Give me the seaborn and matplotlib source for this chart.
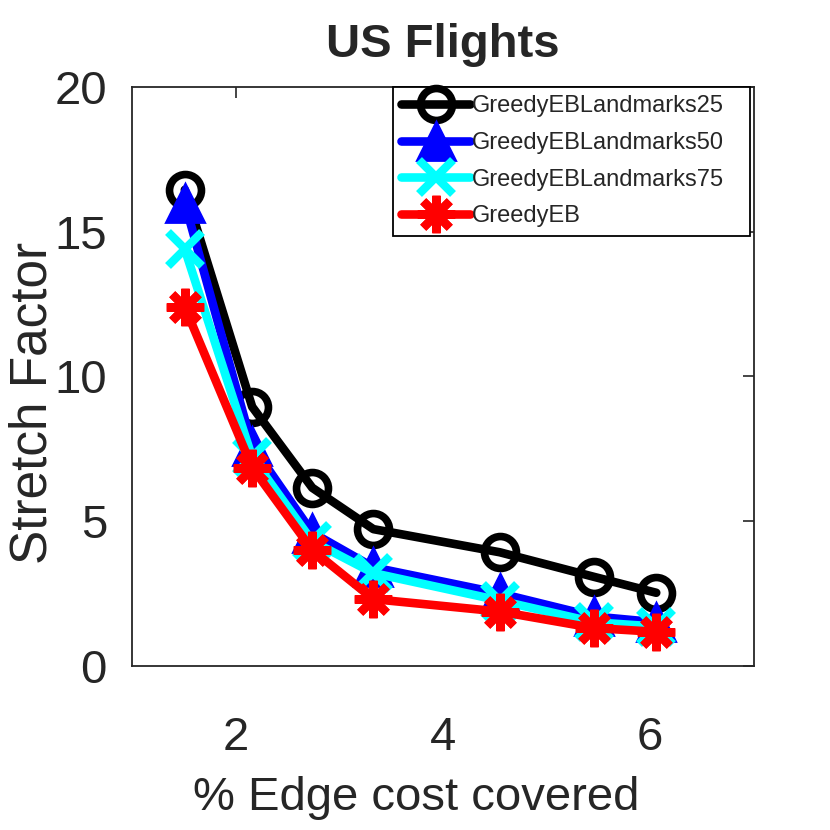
import matplotlib
matplotlib.use("Agg")
import matplotlib.pyplot as plt
import seaborn as sns
import pandas as pd

# values
edge_cost = [1.51, 2.16, 2.74, 3.33, 4.55, 5.46, 6.06]
landmarks25 = [16.45, 8.95, 6.15, 4.72, 3.92, 3.07, 2.52]
landmarks50 = [16.0, 7.6, 4.6, 3.4, 2.5, 1.7, 1.5]
landmarks75 = [14.4, 7.2, 4.3, 3.2, 2.25, 1.5, 1.35]
greedy_eb = [12.4, 6.85, 4.0, 2.3, 1.87, 1.3, 1.17]

series_names = ["GreedyEBLandmarks25", "GreedyEBLandmarks50",
                "GreedyEBLandmarks75", "GreedyEB"]
series_values = [landmarks25, landmarks50, landmarks75, greedy_eb]

x_ticks = [2, 4, 6]
y_ticks = [0, 5, 10, 15, 20]

sns.set_style("white")
plt.rcParams['font.family'] = ['Liberation Sans', 'DejaVu Sans']

STYLES = {
    "GreedyEBLandmarks25": dict(color="black", marker="o", markersize=23,
                                markerfacecolor="none", markeredgecolor="black",
                                markeredgewidth=5.5),
    "GreedyEBLandmarks50": dict(color="blue", marker="^", markersize=27,
                                markerfacecolor="blue", markeredgecolor="blue",
                                markeredgewidth=2),
    "GreedyEBLandmarks75": dict(color="cyan", marker="x", markersize=24,
                                markeredgecolor="cyan", markeredgewidth=6),
    "GreedyEB": dict(color="red", marker=(8, 2, 0), markersize=27,
                     markeredgecolor="red", markeredgewidth=6),
}

fig = plt.figure(figsize=(8.3, 8.3), dpi=100)
ax = fig.add_axes([0.159, 0.198, 0.749, 0.697])

for name, vals in zip(series_names, series_values):
    df = pd.DataFrame({"x": edge_cost, "y": vals})
    sns.lineplot(data=df, x="x", y="y", ax=ax, linewidth=6.2, linestyle="-",
                 dashes=False, label=name, **STYLES[name])

ax.set_xlim(1, 7)
ax.set_ylim(0, 20)
ax.set_xticks(x_ticks)
ax.set_yticks(y_ticks)

dark = "#262626"
for sp in ax.spines.values():
    sp.set_color(dark)
    sp.set_linewidth(1.3)
ax.tick_params(direction="in", length=8, width=1.2, color=dark,
               top=True, right=True, labelsize=34, labelcolor=dark)
ax.tick_params(axis="x", pad=36)
ax.tick_params(axis="y", pad=18)

ax.set_title("US Flights", fontsize=34, fontweight="bold", pad=22)
ax.set_xlabel("% Edge cost covered", fontsize=34, color=dark)
ax.set_ylabel("Stretch Factor", fontsize=37, color=dark)
ax.xaxis.set_label_coords(0.457, -0.19)
ax.yaxis.set_label_coords(-0.12, 0.455)

leg = ax.legend(loc="upper right", bbox_to_anchor=(0.42, 0.0, 0.574, 1.0),
                mode="expand", borderaxespad=0, fontsize=17, fancybox=False,
                edgecolor="black", framealpha=1, handlelength=2.9,
                handletextpad=0.1, labelspacing=0.62, borderpad=0.35)
leg.get_frame().set_linewidth(1.3)

fig.savefig("out.png", dpi=100)
plt.close(fig)
